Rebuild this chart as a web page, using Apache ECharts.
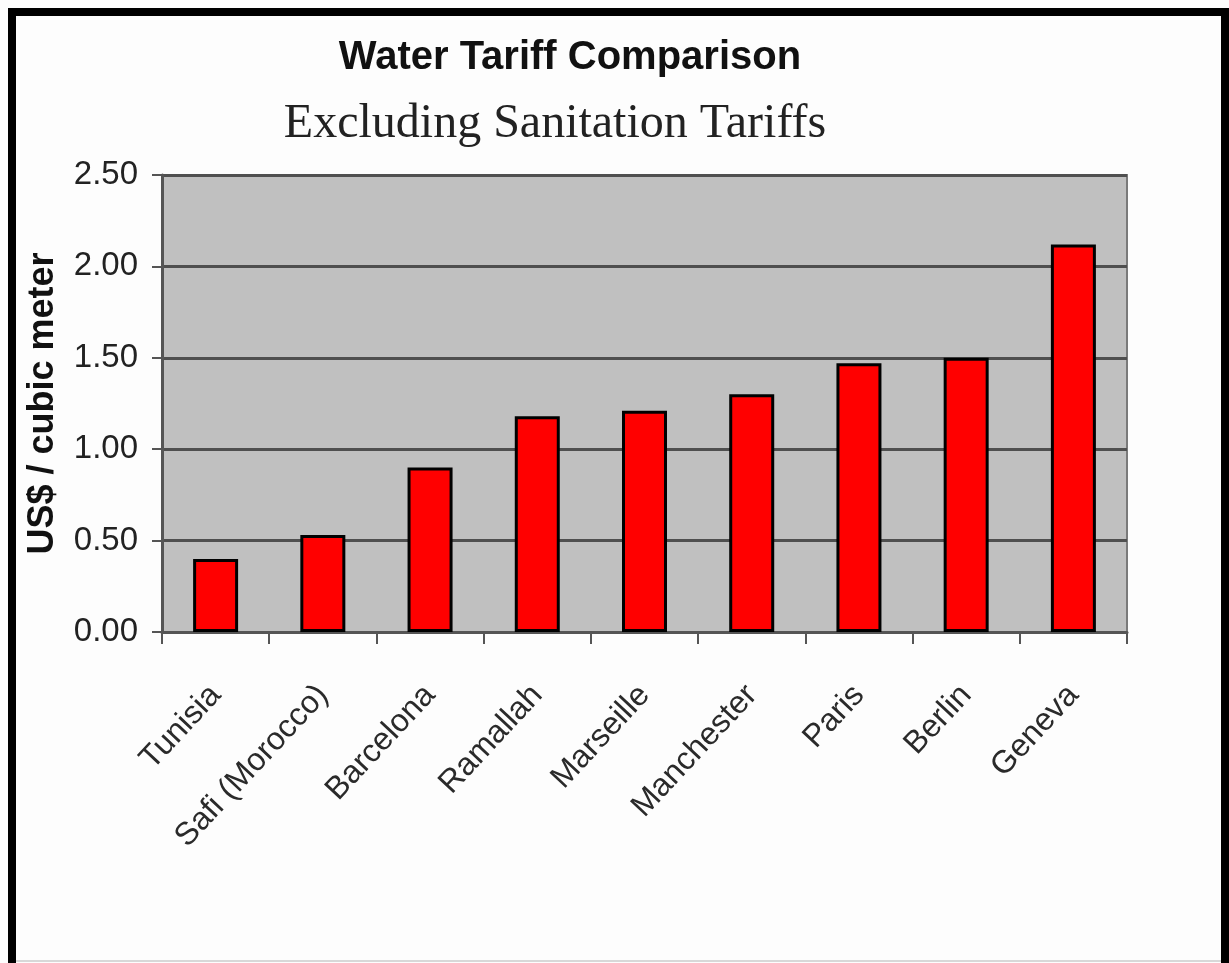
<!DOCTYPE html>
<html>
<head>
<meta charset="utf-8">
<title>Water Tariff Comparison</title>
<script src="https://cdn.jsdelivr.net/npm/echarts@6/dist/echarts.min.js"></script>
<style>
  html, body { margin: 0; padding: 0; background: #fdfdfd; }
  #chart { width: 1229px; height: 963px; }
</style>
</head>
<body>
<div id="chart"></div>
<script>
// Cities / regions compared
const cities = ['Tunisia', 'Safi (Morocco)', 'Barcelona', 'Ramallah', 'Marseille',
                'Manchester', 'Paris', 'Berlin', 'Geneva'];
// Water tariff, US$ per cubic meter (sanitation excluded)
const tariffs = [0.40, 0.53, 0.90, 1.18, 1.21, 1.30, 1.47, 1.50, 2.12];
// Value axis ticks
const yMin = 0, yMax = 2.5, yStep = 0.5;

const chart = echarts.init(document.getElementById('chart'), null, { renderer: 'canvas' });

chart.setOption({
  backgroundColor: '#fdfdfd',
  animation: false,
  title: [
    {
      text: 'Water Tariff Comparison',
      left: 565, top: 33, textAlign: 'center',
      textStyle: { fontFamily: 'Liberation Sans, Arial, sans-serif', fontWeight: 'bold',
                   fontSize: 40, color: '#111' }
    },
    {
      text: 'Excluding Sanitation Tariffs',
      left: 550, top: 95, textAlign: 'center',
      textStyle: { fontFamily: 'Liberation Serif, Times New Roman, serif', fontWeight: 'normal',
                   fontSize: 48, color: '#222' }
    }
  ],
  graphic: [
    // outer frame
    { type: 'rect', shape: { x: 8, y: 8, width: 1221, height: 8 }, style: { fill: '#000' } },
    { type: 'rect', shape: { x: 8, y: 8, width: 8, height: 955 }, style: { fill: '#000' } },
    { type: 'rect', shape: { x: 1221, y: 8, width: 8, height: 955 }, style: { fill: '#000' } },
    { type: 'rect', shape: { x: 16, y: 960, width: 1205, height: 2 }, style: { fill: '#d8d8d8' } }
  ],
  grid: {
    left: 162, right: 102, top: 175, bottom: 331,
    show: true, backgroundColor: '#c0c0c0', borderColor: '#7a7a7a', borderWidth: 2
  },
  xAxis: {
    type: 'category',
    data: cities,
    boundaryGap: true,
    axisLine: { show: true, lineStyle: { color: '#555', width: 3 } },
    axisTick: { show: true, length: 12, alignWithLabel: false, lineStyle: { color: '#555', width: 2 } },
    axisLabel: {
      rotate: 47, margin: 58, interval: 0,
      fontFamily: 'Liberation Sans, Arial, sans-serif', fontSize: 32, color: '#2a2a2a'
    }
  },
  yAxis: {
    type: 'value',
    min: yMin, max: yMax, interval: yStep,
    name: 'US$ / cubic meter',
    nameLocation: 'middle',
    nameGap: 101,
    nameRotate: 90,
    nameTextStyle: { fontFamily: 'Liberation Sans, Arial, sans-serif', fontWeight: 'bold',
                     fontSize: 36, color: '#111' },
    axisLine: { show: true, lineStyle: { color: '#555', width: 3 } },
    axisTick: { show: true, length: 10, lineStyle: { color: '#555', width: 2 } },
    axisLabel: {
      margin: 24,
      formatter: v => v.toFixed(2),
      fontFamily: 'Liberation Sans, Arial, sans-serif', fontSize: 33, color: '#222'
    },
    splitLine: { show: true, lineStyle: { color: '#4f4f4f', width: 3 } }
  },
  series: [{
    type: 'bar',
    data: tariffs,
    barWidth: 45,
    itemStyle: { color: '#ff0000', borderColor: '#000', borderWidth: 3 }
  }]
});
</script>
</body>
</html>
